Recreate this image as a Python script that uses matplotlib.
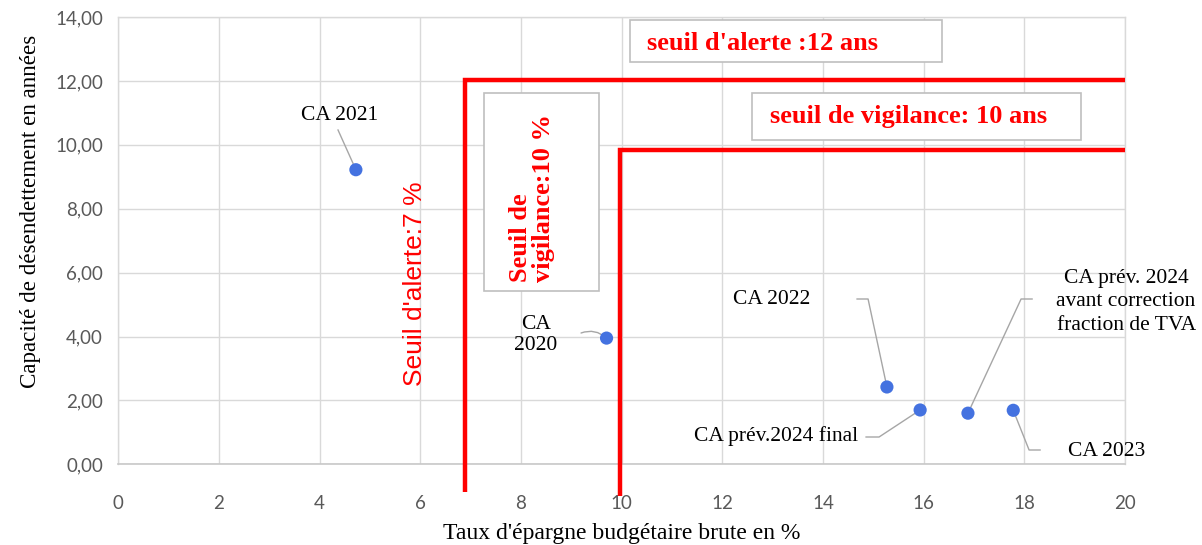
import matplotlib
matplotlib.use("Agg")
import matplotlib.pyplot as plt
from matplotlib.patches import Rectangle

# ---- data ----
labels = ["CA 2021", "CA\n2020", "CA 2022", "CA prév.2024 final",
          "CA prév. 2024\navant correction\nfraction de TVA", "CA 2023"]
taux = [4.72, 9.70, 15.27, 15.93, 16.88, 17.78]
capacite = [9.22, 3.95, 2.42, 1.70, 1.60, 1.69]

x_ticks = [0, 2, 4, 6, 8, 10, 12, 14, 16, 18, 20]
y_ticks = [0, 2, 4, 6, 8, 10, 12, 14]

seuil_alerte_taux = 6.89
seuil_vigilance_taux = 9.96
seuil_alerte_ans = 12.03
seuil_vigilance_ans = 9.84

W, H = 1202, 545
fig = plt.figure(figsize=(W / 100, H / 100), dpi=100)
ax = fig.add_axes([118.3 / W, 1 - 464.3 / H, (1125 - 118.3) / W, (464.3 - 17) / H])

grid_c = "#d9d9d9"
ax.set_xlim(0, 20)
ax.set_ylim(0, 14)
ax.set_xticks(x_ticks)
ax.set_yticks(y_ticks)
ax.set_xticklabels([str(v) for v in x_ticks])
ax.set_yticklabels([f"{v:.2f}".replace(".", ",") for v in y_ticks])
ax.grid(True, color=grid_c, linewidth=1.0)
ax.set_axisbelow(True)
for s in ["top", "right", "left"]:
    ax.spines[s].set_color(grid_c)
    ax.spines[s].set_linewidth(1.0)
ax.spines["bottom"].set_color("#c8c8c8")
ax.spines["bottom"].set_linewidth(1.2)
ax.tick_params(length=0, labelsize=13.5, labelcolor="#595959")
ax.tick_params(axis="x", pad=22)
ax.tick_params(axis="y", pad=11)
for lab in ax.get_xticklabels() + ax.get_yticklabels():
    lab.set_family("Lato")

serif = "Liberation Serif"
ax.set_xlabel("Taux d'épargne budgétaire brute en %", family=serif, fontsize=17, labelpad=8)
ax.set_ylabel("Capacité de désendettement en années", family=serif, fontsize=16.6)
ax.yaxis.set_label_coords((41 - 118.3) / (1125 - 118.3), (464.3 - 211) / (464.3 - 17))

# threshold lines
red = "#ff0000"
ax.plot([seuil_alerte_taux, seuil_alerte_taux, 20], [-0.86, seuil_alerte_ans, seuil_alerte_ans],
        color=red, lw=3.2, clip_on=False, zorder=3, solid_joinstyle="miter",
        solid_capstyle="butt")
ax.plot([seuil_vigilance_taux, seuil_vigilance_taux, 20], [-0.99, seuil_vigilance_ans, seuil_vigilance_ans],
        color=red, lw=3.2, clip_on=False, zorder=3, solid_joinstyle="miter",
        solid_capstyle="butt")

# points
ax.scatter(taux, capacite, s=90, color="#4472E0", zorder=5, edgecolors="none")

def px(x):
    return (x - 118.3) / 50.33

def py(y):
    return (464.3 - y) / 31.95

lc = "#a6a6a6"
lw = 1.0
fs = 15.5

# CA 2021
ax.text(px(340), py(115), labels[0], family=serif, fontsize=fs, ha="center", va="center")
ax.plot([px(338), taux[0]], [py(130), capacite[0]], color=lc, lw=lw, zorder=4)
# CA 2020
ax.text(px(536), py(335), labels[1], family=serif, fontsize=fs, ha="center", va="center",
        linespacing=1.15)
ax.annotate("", xy=(taux[1], capacite[1]), xytext=(px(581), py(333)),
            arrowprops=dict(arrowstyle="-", color=lc, lw=lw, connectionstyle="arc3,rad=-0.3",
                            shrinkA=0, shrinkB=0), zorder=4)
# CA 2022
ax.text(px(772), py(299), labels[2], family=serif, fontsize=fs, ha="center", va="center")
ax.plot([px(857), px(868), taux[2]], [py(299), py(299), capacite[2]], color=lc, lw=lw, zorder=4)
# CA prev 2024 final
ax.text(px(858), py(436), labels[3], family=serif, fontsize=fs, ha="right", va="center")
ax.plot([px(866), px(879), taux[3]], [py(437), py(437), capacite[3]], color=lc, lw=lw, zorder=4)
# CA prev 2024 avant correction
ax.text(px(1126), py(302), labels[4], family=serif, fontsize=fs, ha="center", va="center",
        linespacing=1.3, clip_on=False)
ax.plot([px(1032), px(1021), taux[4]], [py(299), py(299), capacite[4]], color=lc, lw=lw, zorder=4)
# CA 2023
ax.text(px(1107), py(451), labels[5], family=serif, fontsize=fs, ha="center", va="center")
ax.plot([taux[5], px(1029), px(1040)], [capacite[5], py(450), py(450)], color=lc, lw=lw, zorder=4)

# text boxes
def fbox(x0, y0, x1, y1):
    fig.patches.append(Rectangle((x0 / W, 1 - y1 / H), (x1 - x0) / W, (y1 - y0) / H,
                                 transform=fig.transFigure, facecolor="white",
                                 edgecolor="#bfbfbf", linewidth=1.2, zorder=6))

fbox(630, 20, 942, 62)
fbox(752, 93, 1081, 140)
fbox(484, 93, 599, 291)

fig.text(647 / W, 1 - 44 / H, "seuil d'alerte :12 ans", family=serif, weight="bold",
         fontsize=19, color=red, ha="left", va="center", zorder=7)
fig.text(770 / W, 1 - 117 / H, "seuil de vigilance: 10 ans", family=serif, weight="bold",
         fontsize=19, color=red, ha="left", va="center", zorder=7)
fig.text(532 / W, 1 - 282 / H, "Seuil de\nvigilance:10 %", family=serif, weight="bold",
         fontsize=19, color=red, ha="left", va="center", rotation=90,
         rotation_mode="anchor", multialignment="left", linespacing=1.05, zorder=7)
fig.text(415 / W, 1 - 284 / H, "Seuil d'alerte:7 %", family="Liberation Sans",
         fontsize=19, color=red, ha="center", va="center", rotation=90, zorder=7)

fig.savefig("out.png", dpi=100)
